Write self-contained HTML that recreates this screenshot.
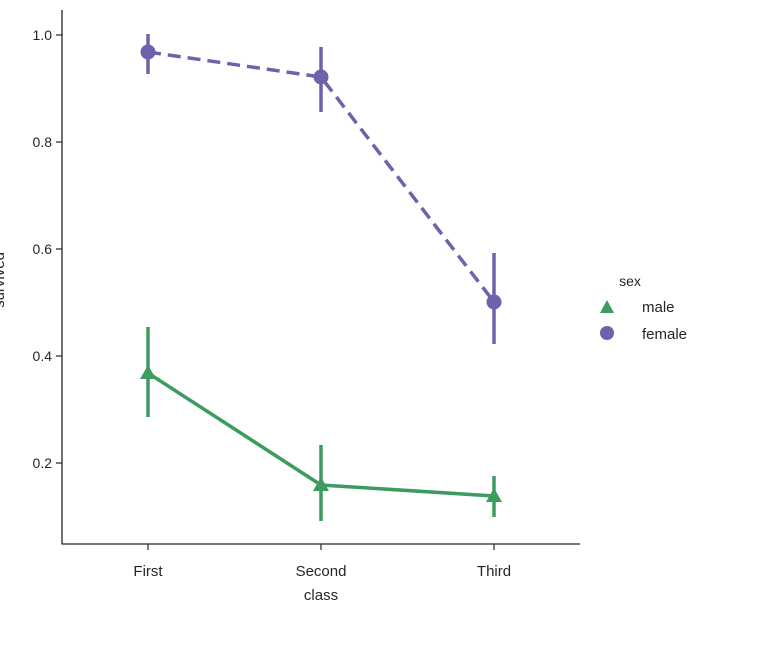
<!DOCTYPE html>
<html><head><meta charset="utf-8"><style>
html,body{margin:0;padding:0;background:#fff;overflow:hidden;}
text{font-family:"Liberation Sans",sans-serif;fill:#262626;}
</style></head><body>
<svg width="759" height="642" viewBox="0 0 759 642" xmlns="http://www.w3.org/2000/svg">
<rect width="759" height="642" fill="#fff"/>
<line x1="62" y1="10" x2="62" y2="544.5" stroke="#262626" stroke-width="1.3"/>
<line x1="62" y1="544" x2="580" y2="544" stroke="#262626" stroke-width="1.3"/>
<g stroke="#262626" stroke-width="1.2">
<line x1="56" y1="35" x2="62" y2="35"/>
<line x1="56" y1="142" x2="62" y2="142"/>
<line x1="56" y1="249" x2="62" y2="249"/>
<line x1="56" y1="356" x2="62" y2="356"/>
<line x1="56" y1="463" x2="62" y2="463"/>
<line x1="148" y1="544" x2="148" y2="550"/>
<line x1="321" y1="544" x2="321" y2="550"/>
<line x1="494" y1="544" x2="494" y2="550"/>
</g>
<g font-size="14" text-anchor="end">
<text x="52" y="40">1.0</text>
<text x="52" y="147">0.8</text>
<text x="52" y="254">0.6</text>
<text x="52" y="361">0.4</text>
<text x="52" y="468">0.2</text>
</g>
<g font-size="15" text-anchor="middle">
<text x="148" y="576">First</text>
<text x="321" y="576">Second</text>
<text x="494" y="576">Third</text>
<text x="321" y="600">class</text>
</g>
<text font-size="15" text-anchor="middle" transform="translate(4,280) rotate(-90)">survived</text>
<g stroke="#6c63ac" stroke-width="3.5" fill="none">
<polyline points="148,52 321,77 494,302" stroke-dasharray="13,7"/>
<line x1="148" y1="34" x2="148" y2="74"/>
<line x1="321" y1="47" x2="321" y2="112"/>
<line x1="494" y1="253" x2="494" y2="344"/>
</g>
<g fill="#6c63ac">
<circle cx="148" cy="52" r="7.5"/>
<circle cx="321" cy="77" r="7.5"/>
<circle cx="494" cy="302" r="7.5"/>
</g>
<g stroke="#3c9b5f" stroke-width="3.5" fill="none">
<polyline points="148,373 321,485 494,496"/>
<line x1="148" y1="327" x2="148" y2="417"/>
<line x1="321" y1="445" x2="321" y2="521"/>
<line x1="494" y1="476" x2="494" y2="517"/>
</g>
<g fill="#3c9b5f">
<polygon points="148,365 140,379 156,379"/>
<polygon points="321,477 313,491 329,491"/>
<polygon points="494,488 486,502 502,502"/>
</g>
<text x="630" y="286" font-size="14" text-anchor="middle">sex</text>
<polygon points="607,300 600,313 614,313" fill="#3c9b5f"/>
<text x="642" y="312" font-size="15">male</text>
<circle cx="607" cy="333" r="7" fill="#6c63ac"/>
<text x="642" y="339" font-size="15">female</text>
</svg>
</body></html>
